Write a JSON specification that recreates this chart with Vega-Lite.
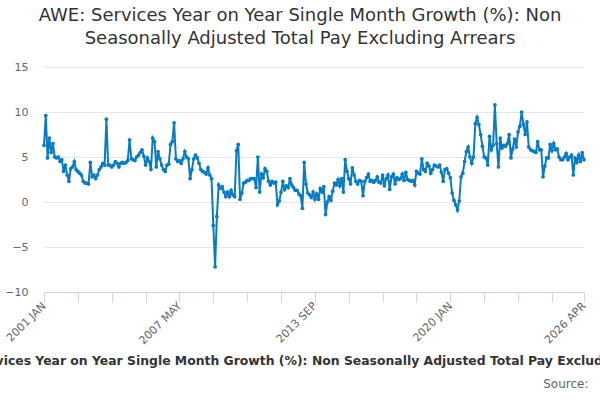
{
  "$schema": "https://vega.github.io/schema/vega-lite/v6.json",
  "description": "AWE services year on year single month growth, monthly from 2001 Jan to 2026 Apr.",
  "width": 540,
  "height": 225,
  "autosize": {"type": "none"},
  "padding": {"left": 44, "top": 67, "right": 16, "bottom": 108},
  "background": "white",
  "title": {
    "text": ["AWE: Services Year on Year Single Month Growth (%): Non", "Seasonally Adjusted Total Pay Excluding Arrears"],
    "fontSize": 18,
    "fontWeight": "normal",
    "color": "#333333",
    "anchor": "middle",
    "frame": "group",
    "dx": -14,
    "offset": 13,
    "lineHeight": 23
  },
  "data": {
    "values": [
      {"m": "2001-01", "v": 6.3}, {"m": "2001-02", "v": 9.6}, {"m": "2001-03", "v": 4.9}, {"m": "2001-04", "v": 7.1},
      {"m": "2001-05", "v": 5.5}, {"m": "2001-06", "v": 6.5}, {"m": "2001-07", "v": 5.0}, {"m": "2001-08", "v": 4.9},
      {"m": "2001-09", "v": 5.0}, {"m": "2001-10", "v": 4.5}, {"m": "2001-11", "v": 4.7}, {"m": "2001-12", "v": 3.4},
      {"m": "2002-01", "v": 4.1}, {"m": "2002-02", "v": 3.0}, {"m": "2002-03", "v": 2.3}, {"m": "2002-04", "v": 3.7},
      {"m": "2002-05", "v": 3.9}, {"m": "2002-06", "v": 4.5}, {"m": "2002-07", "v": 3.6}, {"m": "2002-08", "v": 3.4},
      {"m": "2002-09", "v": 3.2}, {"m": "2002-10", "v": 3.0}, {"m": "2002-11", "v": 2.3}, {"m": "2002-12", "v": 2.1},
      {"m": "2003-01", "v": 2.1}, {"m": "2003-02", "v": 2.0}, {"m": "2003-03", "v": 4.4}, {"m": "2003-04", "v": 2.8},
      {"m": "2003-05", "v": 3.0}, {"m": "2003-06", "v": 2.6}, {"m": "2003-07", "v": 3.0}, {"m": "2003-08", "v": 3.6},
      {"m": "2003-09", "v": 3.9}, {"m": "2003-10", "v": 4.3}, {"m": "2003-11", "v": 4.1}, {"m": "2003-12", "v": 9.2},
      {"m": "2004-01", "v": 4.1}, {"m": "2004-02", "v": 4.1}, {"m": "2004-03", "v": 3.9}, {"m": "2004-04", "v": 4.1},
      {"m": "2004-05", "v": 4.5}, {"m": "2004-06", "v": 4.3}, {"m": "2004-07", "v": 3.9}, {"m": "2004-08", "v": 4.3},
      {"m": "2004-09", "v": 4.4}, {"m": "2004-10", "v": 4.3}, {"m": "2004-11", "v": 4.4}, {"m": "2004-12", "v": 4.6},
      {"m": "2005-01", "v": 6.9}, {"m": "2005-02", "v": 4.8}, {"m": "2005-03", "v": 4.7}, {"m": "2005-04", "v": 4.6},
      {"m": "2005-05", "v": 5.0}, {"m": "2005-06", "v": 5.2}, {"m": "2005-07", "v": 5.5}, {"m": "2005-08", "v": 5.8},
      {"m": "2005-09", "v": 5.1}, {"m": "2005-10", "v": 4.1}, {"m": "2005-11", "v": 4.9}, {"m": "2005-12", "v": 4.5},
      {"m": "2006-01", "v": 3.6}, {"m": "2006-02", "v": 7.1}, {"m": "2006-03", "v": 6.7}, {"m": "2006-04", "v": 3.9},
      {"m": "2006-05", "v": 5.6}, {"m": "2006-06", "v": 4.8}, {"m": "2006-07", "v": 4.1}, {"m": "2006-08", "v": 3.6},
      {"m": "2006-09", "v": 3.4}, {"m": "2006-10", "v": 4.1}, {"m": "2006-11", "v": 4.2}, {"m": "2006-12", "v": 6.4},
      {"m": "2007-01", "v": 6.7}, {"m": "2007-02", "v": 8.8}, {"m": "2007-03", "v": 4.8}, {"m": "2007-04", "v": 4.5},
      {"m": "2007-05", "v": 4.6}, {"m": "2007-06", "v": 4.3}, {"m": "2007-07", "v": 4.8}, {"m": "2007-08", "v": 5.6},
      {"m": "2007-09", "v": 5.0}, {"m": "2007-10", "v": 4.8}, {"m": "2007-11", "v": 2.6}, {"m": "2007-12", "v": 3.6},
      {"m": "2008-01", "v": 4.8}, {"m": "2008-02", "v": 5.2}, {"m": "2008-03", "v": 4.9}, {"m": "2008-04", "v": 4.3},
      {"m": "2008-05", "v": 3.6}, {"m": "2008-06", "v": 3.4}, {"m": "2008-07", "v": 3.3}, {"m": "2008-08", "v": 3.1},
      {"m": "2008-09", "v": 3.8}, {"m": "2008-10", "v": 3.0}, {"m": "2008-11", "v": 2.6}, {"m": "2008-12", "v": -2.6},
      {"m": "2009-01", "v": -7.2}, {"m": "2009-02", "v": -1.6}, {"m": "2009-03", "v": 1.9}, {"m": "2009-04", "v": 1.5},
      {"m": "2009-05", "v": 1.7}, {"m": "2009-06", "v": 1.1}, {"m": "2009-07", "v": 0.6}, {"m": "2009-08", "v": 1.1},
      {"m": "2009-09", "v": 0.6}, {"m": "2009-10", "v": 1.3}, {"m": "2009-11", "v": 0.8}, {"m": "2009-12", "v": 0.6},
      {"m": "2010-01", "v": 5.7}, {"m": "2010-02", "v": 6.4}, {"m": "2010-03", "v": 0.3}, {"m": "2010-04", "v": 1.0},
      {"m": "2010-05", "v": 2.1}, {"m": "2010-06", "v": 2.2}, {"m": "2010-07", "v": 2.4}, {"m": "2010-08", "v": 2.4},
      {"m": "2010-09", "v": 2.6}, {"m": "2010-10", "v": 2.6}, {"m": "2010-11", "v": 2.6}, {"m": "2010-12", "v": 1.6},
      {"m": "2011-01", "v": 5.0}, {"m": "2011-02", "v": 1.1}, {"m": "2011-03", "v": 3.1}, {"m": "2011-04", "v": 2.7},
      {"m": "2011-05", "v": 3.7}, {"m": "2011-06", "v": 3.4}, {"m": "2011-07", "v": 2.3}, {"m": "2011-08", "v": 1.9},
      {"m": "2011-09", "v": 2.3}, {"m": "2011-10", "v": 2.1}, {"m": "2011-11", "v": 2.2}, {"m": "2011-12", "v": -0.3},
      {"m": "2012-01", "v": 0.1}, {"m": "2012-02", "v": 1.1}, {"m": "2012-03", "v": 2.3}, {"m": "2012-04", "v": 1.4},
      {"m": "2012-05", "v": 1.8}, {"m": "2012-06", "v": 1.6}, {"m": "2012-07", "v": 2.6}, {"m": "2012-08", "v": 1.9},
      {"m": "2012-09", "v": 1.6}, {"m": "2012-10", "v": 1.3}, {"m": "2012-11", "v": 1.3}, {"m": "2012-12", "v": 0.9},
      {"m": "2013-01", "v": 0.7}, {"m": "2013-02", "v": -0.7}, {"m": "2013-03", "v": 4.4}, {"m": "2013-04", "v": 2.0},
      {"m": "2013-05", "v": 1.0}, {"m": "2013-06", "v": 0.8}, {"m": "2013-07", "v": 0.5}, {"m": "2013-08", "v": 1.1},
      {"m": "2013-09", "v": 0.3}, {"m": "2013-10", "v": 0.9}, {"m": "2013-11", "v": 0.3}, {"m": "2013-12", "v": 1.5},
      {"m": "2014-01", "v": 1.1}, {"m": "2014-02", "v": 1.7}, {"m": "2014-03", "v": -1.4}, {"m": "2014-04", "v": 0.0},
      {"m": "2014-05", "v": 0.6}, {"m": "2014-06", "v": 0.2}, {"m": "2014-07", "v": 1.2}, {"m": "2014-08", "v": 2.1},
      {"m": "2014-09", "v": 1.9}, {"m": "2014-10", "v": 2.5}, {"m": "2014-11", "v": 1.8}, {"m": "2014-12", "v": 2.6},
      {"m": "2015-01", "v": 1.1}, {"m": "2015-02", "v": 4.7}, {"m": "2015-03", "v": 3.4}, {"m": "2015-04", "v": 2.6},
      {"m": "2015-05", "v": 2.0}, {"m": "2015-06", "v": 3.8}, {"m": "2015-07", "v": 3.0}, {"m": "2015-08", "v": 2.3},
      {"m": "2015-09", "v": 2.0}, {"m": "2015-10", "v": 2.4}, {"m": "2015-11", "v": 2.3}, {"m": "2015-12", "v": 0.7},
      {"m": "2016-01", "v": 2.3}, {"m": "2016-02", "v": 2.7}, {"m": "2016-03", "v": 3.1}, {"m": "2016-04", "v": 2.3},
      {"m": "2016-05", "v": 2.4}, {"m": "2016-06", "v": 2.2}, {"m": "2016-07", "v": 2.4}, {"m": "2016-08", "v": 2.8},
      {"m": "2016-09", "v": 2.2}, {"m": "2016-10", "v": 2.1}, {"m": "2016-11", "v": 3.0}, {"m": "2016-12", "v": 1.8},
      {"m": "2017-01", "v": 2.6}, {"m": "2017-02", "v": 3.0}, {"m": "2017-03", "v": 1.4}, {"m": "2017-04", "v": 2.8},
      {"m": "2017-05", "v": 3.1}, {"m": "2017-06", "v": 2.0}, {"m": "2017-07", "v": 2.7}, {"m": "2017-08", "v": 2.5},
      {"m": "2017-09", "v": 2.6}, {"m": "2017-10", "v": 3.1}, {"m": "2017-11", "v": 2.4}, {"m": "2017-12", "v": 3.3},
      {"m": "2018-01", "v": 2.5}, {"m": "2018-02", "v": 2.4}, {"m": "2018-03", "v": 2.3}, {"m": "2018-04", "v": 2.4},
      {"m": "2018-05", "v": 1.9}, {"m": "2018-06", "v": 3.4}, {"m": "2018-07", "v": 3.2}, {"m": "2018-08", "v": 3.1},
      {"m": "2018-09", "v": 4.8}, {"m": "2018-10", "v": 3.6}, {"m": "2018-11", "v": 3.4}, {"m": "2018-12", "v": 4.3},
      {"m": "2019-01", "v": 4.0}, {"m": "2019-02", "v": 3.2}, {"m": "2019-03", "v": 3.6}, {"m": "2019-04", "v": 4.1},
      {"m": "2019-05", "v": 4.0}, {"m": "2019-06", "v": 3.9}, {"m": "2019-07", "v": 4.1}, {"m": "2019-08", "v": 3.3},
      {"m": "2019-09", "v": 2.3}, {"m": "2019-10", "v": 3.6}, {"m": "2019-11", "v": 3.7}, {"m": "2019-12", "v": 3.2},
      {"m": "2020-01", "v": 2.7}, {"m": "2020-02", "v": 1.0}, {"m": "2020-03", "v": 0.2}, {"m": "2020-04", "v": -0.3},
      {"m": "2020-05", "v": -0.9}, {"m": "2020-06", "v": 0.1}, {"m": "2020-07", "v": 2.8}, {"m": "2020-08", "v": 3.2},
      {"m": "2020-09", "v": 4.5}, {"m": "2020-10", "v": 5.6}, {"m": "2020-11", "v": 6.1}, {"m": "2020-12", "v": 5.0},
      {"m": "2021-01", "v": 4.3}, {"m": "2021-02", "v": 5.0}, {"m": "2021-03", "v": 8.7}, {"m": "2021-04", "v": 9.4},
      {"m": "2021-05", "v": 8.6}, {"m": "2021-06", "v": 7.5}, {"m": "2021-07", "v": 6.2}, {"m": "2021-08", "v": 5.0},
      {"m": "2021-09", "v": 4.9}, {"m": "2021-10", "v": 4.1}, {"m": "2021-11", "v": 7.3}, {"m": "2021-12", "v": 5.8},
      {"m": "2022-01", "v": 6.3}, {"m": "2022-02", "v": 10.8}, {"m": "2022-03", "v": 6.5}, {"m": "2022-04", "v": 3.9},
      {"m": "2022-05", "v": 7.1}, {"m": "2022-06", "v": 6.0}, {"m": "2022-07", "v": 6.3}, {"m": "2022-08", "v": 6.2},
      {"m": "2022-09", "v": 6.5}, {"m": "2022-10", "v": 7.5}, {"m": "2022-11", "v": 4.9}, {"m": "2022-12", "v": 5.9},
      {"m": "2023-01", "v": 7.0}, {"m": "2023-02", "v": 6.1}, {"m": "2023-03", "v": 7.8}, {"m": "2023-04", "v": 8.4},
      {"m": "2023-05", "v": 10.0}, {"m": "2023-06", "v": 8.6}, {"m": "2023-07", "v": 7.5}, {"m": "2023-08", "v": 8.9},
      {"m": "2023-09", "v": 6.1}, {"m": "2023-10", "v": 5.8}, {"m": "2023-11", "v": 5.7}, {"m": "2023-12", "v": 5.6},
      {"m": "2024-01", "v": 5.5}, {"m": "2024-02", "v": 6.7}, {"m": "2024-03", "v": 5.8}, {"m": "2024-04", "v": 5.8},
      {"m": "2024-05", "v": 2.8}, {"m": "2024-06", "v": 4.0}, {"m": "2024-07", "v": 4.9}, {"m": "2024-08", "v": 4.9},
      {"m": "2024-09", "v": 6.4}, {"m": "2024-10", "v": 5.7}, {"m": "2024-11", "v": 6.5}, {"m": "2024-12", "v": 5.8},
      {"m": "2025-01", "v": 5.9}, {"m": "2025-02", "v": 5.0}, {"m": "2025-03", "v": 4.7}, {"m": "2025-04", "v": 4.7},
      {"m": "2025-05", "v": 5.0}, {"m": "2025-06", "v": 5.4}, {"m": "2025-07", "v": 4.7}, {"m": "2025-08", "v": 5.0},
      {"m": "2025-09", "v": 5.2}, {"m": "2025-10", "v": 3.0}, {"m": "2025-11", "v": 4.9}, {"m": "2025-12", "v": 4.4},
      {"m": "2026-01", "v": 5.2}, {"m": "2026-02", "v": 4.5}, {"m": "2026-03", "v": 5.5}, {"m": "2026-04", "v": 4.7}
    ]
  },
  "mark": {
    "type": "line",
    "color": "#0a7bc1",
    "strokeWidth": 2,
    "point": {"filled": true, "size": 14, "color": "#0a7bc1"}
  },
  "encoding": {
    "x": {
      "field": "m",
      "type": "ordinal",
      "scale": {"type": "point", "padding": 0},
      "axis": {
        "values": ["2001-01", "2002-08", "2004-03", "2005-10", "2007-05", "2008-12", "2010-07", "2012-02", "2013-09", "2015-04", "2016-11", "2018-06", "2020-01", "2021-08", "2023-03", "2024-10", "2026-04"],
        "labelExpr": "indexof(['2001-01','2007-05','2013-09','2020-01','2026-04'], datum.value) < 0 ? '' : slice(datum.value, 0, 4) + ' ' + ['JAN','FEB','MAR','APR','MAY','JUN','JUL','AUG','SEP','OCT','NOV','DEC'][toNumber(slice(datum.value, 5, 7)) - 1]",
        "labelAngle": -45,
        "labelAlign": "right",
        "labelBaseline": "middle",
        "labelOverlap": false,
        "labelBound": false,
        "labelFontSize": 11,
        "labelColor": "#666666",
        "labelPadding": 2,
        "tickSize": 10,
        "tickColor": "#ccd6eb",
        "domainColor": "#ccd6eb",
        "grid": false,
        "title": "AWE: Services Year on Year Single Month Growth (%): Non Seasonally Adjusted Total Pay Excluding Arrears",
        "titleFontSize": 12.4,
        "titleFontWeight": "bold",
        "titleColor": "#333333",
        "titleLimit": 3000,
        "titleX": 262,
        "titleY": 72,
        "titleAlign": "center",
        "titleBaseline": "alphabetic"
      }
    },
    "y": {
      "field": "v",
      "type": "quantitative",
      "scale": {"domain": [-10, 15], "nice": false},
      "axis": {
        "values": [-10, -5, 0, 5, 10, 15],
        "grid": true,
        "gridColor": "#e6e6e6",
        "domain": false,
        "ticks": false,
        "labelPadding": 16,
        "labelFontSize": 11,
        "labelColor": "#666666",
        "title": "Source:",
        "titleAngle": 0,
        "titleX": 544,
        "titleY": 320,
        "titleAlign": "right",
        "titleBaseline": "alphabetic",
        "titleFontSize": 12,
        "titleFontWeight": "normal",
        "titleColor": "#666666"
      }
    }
  },
  "config": {
    "font": "DejaVu Sans",
    "view": {"stroke": null}
  }
}
